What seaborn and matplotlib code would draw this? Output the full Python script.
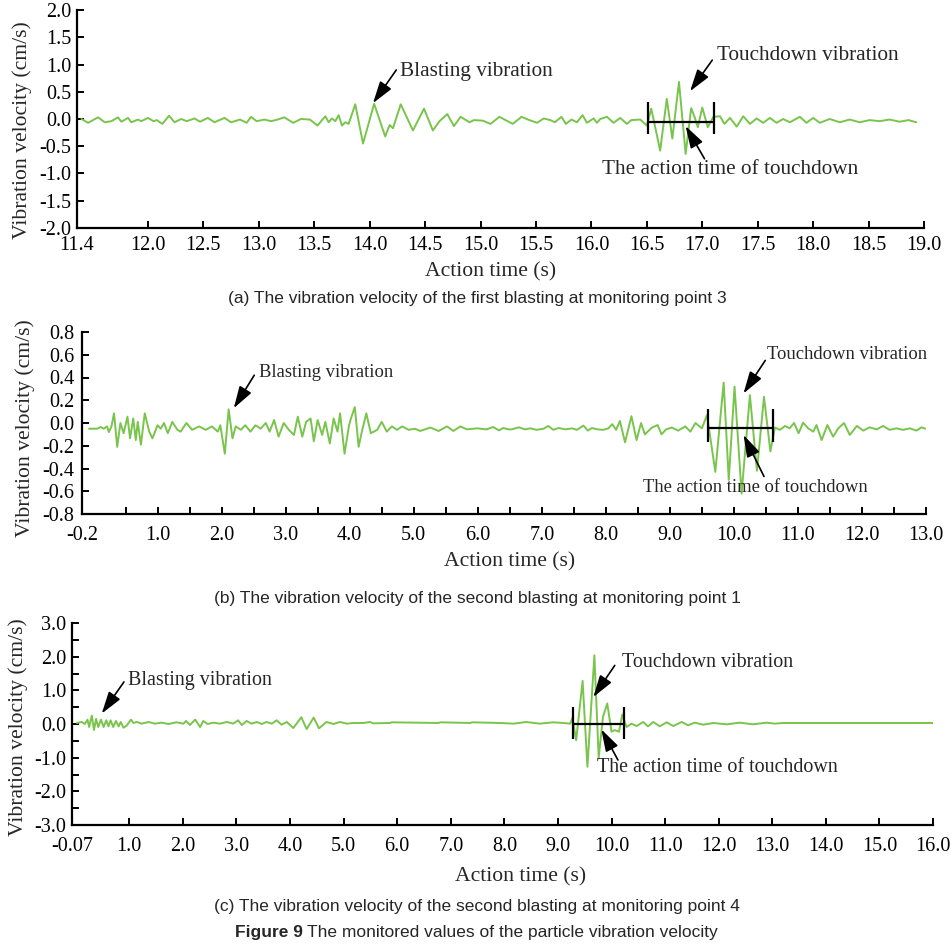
import matplotlib
matplotlib.use("Agg")
import matplotlib.pyplot as plt
import seaborn as sns
import pandas as pd

# ---------------- data ----------------
# (a) first blasting, monitoring point 3
a_time = [11.40, 11.46, 11.55, 11.61, 11.67, 11.73, 11.76, 11.82, 11.85, 11.91, 11.94, 12.00,
          12.05, 12.08, 12.13, 12.19, 12.24, 12.30, 12.35, 12.42, 12.47, 12.54, 12.60, 12.69,
          12.75, 12.83, 12.89, 12.93, 12.98, 13.05, 13.11, 13.17, 13.23, 13.31, 13.38, 13.46,
          13.53, 13.57, 13.60, 13.63, 13.66, 13.69, 13.72, 13.75, 13.78, 13.81, 13.87, 13.94,
          14.04, 14.14, 14.18, 14.21, 14.28, 14.39, 14.49, 14.57, 14.63, 14.70, 14.76, 14.82,
          14.90, 14.94, 15.02, 15.09, 15.17, 15.29, 15.37, 15.44, 15.51, 15.57, 15.63, 15.67,
          15.73, 15.77, 15.82, 15.87, 15.92, 15.96, 16.02, 16.05, 16.08, 16.14, 16.20, 16.26,
          16.32, 16.36, 16.44, 16.50, 16.54, 16.62, 16.68, 16.73, 16.79, 16.85, 16.90, 16.93,
          16.96, 17.00, 17.05, 17.10, 17.16, 17.20, 17.25, 17.31, 17.37, 17.43, 17.49, 17.55,
          17.61, 17.67, 17.73, 17.79, 17.88, 17.94, 18.00, 18.06, 18.15, 18.24, 18.33, 18.42,
          18.51, 18.60, 18.69, 18.78, 18.86, 18.93]
a_vel = [0.00, -0.07, 0.03, -0.06, -0.04, 0.03, -0.05, 0.02, -0.06, -0.01, -0.04, 0.02,
         -0.04, -0.02, -0.09, 0.06, -0.06, 0.00, -0.04, 0.01, -0.05, 0.02, -0.06, 0.02,
         -0.06, -0.01, -0.07, 0.04, -0.04, -0.01, -0.04, -0.01, 0.03, -0.07, 0.00, -0.01,
         -0.12, -0.02, 0.05, -0.06, 0.01, -0.04, 0.07, -0.12, -0.06, -0.09, 0.27, -0.45,
         0.28, -0.32, -0.11, -0.17, 0.27, -0.21, 0.19, -0.21, -0.04, 0.09, -0.13, 0.04,
         -0.06, -0.02, -0.03, -0.09, 0.04, -0.09, 0.04, -0.02, -0.07, 0.01, -0.02, -0.06,
         0.04, -0.09, -0.01, -0.06, 0.07, -0.07, 0.01, -0.07, 0.00, 0.04, -0.07, 0.02,
         -0.09, -0.02, -0.01, -0.12, 0.19, -0.58, 0.37, -0.36, 0.68, -0.64, 0.20, 0.04,
         -0.15, 0.21, -0.15, 0.04, 0.05, -0.09, 0.02, -0.14, 0.05, -0.09, 0.01, -0.07,
         0.02, -0.07, 0.00, -0.06, 0.04, -0.07, 0.02, -0.07, 0.00, -0.06, -0.01, -0.06,
         -0.02, -0.04, -0.01, -0.05, -0.02, -0.06]

# (b) second blasting, monitoring point 1
b_time = [-0.07, 0.06, 0.11, 0.16, 0.21, 0.24, 0.28, 0.32, 0.37, 0.42, 0.47, 0.53, 0.57,
          0.62, 0.66, 0.69, 0.74, 0.80, 0.87, 0.92, 1.00, 1.05, 1.10, 1.16, 1.23, 1.31,
          1.36, 1.45, 1.54, 1.65, 1.75, 1.85, 1.94, 1.98, 2.05, 2.11, 2.17, 2.22, 2.30,
          2.37, 2.45, 2.53, 2.61, 2.69, 2.75, 2.82, 2.89, 2.97, 3.05, 3.13, 3.19, 3.26,
          3.32, 3.39, 3.44, 3.50, 3.57, 3.62, 3.69, 3.75, 3.81, 3.85, 3.92, 3.99, 4.02,
          4.08, 4.14, 4.19, 4.26, 4.33, 4.43, 4.50, 4.58, 4.66, 4.74, 4.82, 4.92, 5.02,
          5.10, 5.26, 5.39, 5.52, 5.62, 5.73, 5.83, 5.99, 6.14, 6.24, 6.33, 6.40, 6.48,
          6.53, 6.64, 6.74, 6.82, 6.92, 7.03, 7.10, 7.18, 7.26, 7.37, 7.47, 7.55, 7.65,
          7.72, 7.78, 7.87, 7.96, 8.04, 8.10, 8.16, 8.22, 8.30, 8.40, 8.48, 8.55, 8.61,
          8.72, 8.81, 8.87, 8.94, 9.03, 9.13, 9.24, 9.32, 9.40, 9.50, 9.58, 9.71, 9.84,
          9.92, 10.01, 10.12, 10.25, 10.36, 10.47, 10.57, 10.64, 10.72, 10.80, 10.87,
          10.94, 11.01, 11.08, 11.16, 11.24, 11.29, 11.37, 11.46, 11.55, 11.63, 11.72,
          11.81, 11.92, 12.02, 12.12, 12.23, 12.33, 12.43, 12.54, 12.64, 12.75, 12.85,
          12.93, 12.99]
b_vel = [-0.05, -0.05, -0.035, -0.05, -0.03, -0.08, -0.03, 0.085, -0.21, 0.00, -0.09,
         0.056, -0.135, 0.04, -0.15, 0.01, -0.19, 0.085, -0.076, -0.135, -0.02, -0.05,
         0.00, -0.09, 0.01, -0.06, -0.076, 0.00, -0.06, -0.03, -0.06, -0.03, -0.076,
         -0.02, -0.27, 0.12, -0.135, -0.03, -0.06, -0.02, -0.076, -0.02, -0.05, 0.00,
         -0.076, 0.026, -0.12, 0.00, -0.06, -0.105, 0.056, -0.12, 0.01, 0.04, -0.16,
         0.026, -0.105, 0.01, -0.18, 0.04, -0.076, 0.085, -0.27, -0.02, 0.04, 0.14,
         -0.21, -0.076, 0.085, -0.09, -0.06, 0.01, -0.076, -0.03, -0.06, -0.03, -0.06,
         -0.05, -0.07, -0.04, -0.07, -0.03, -0.07, -0.03, -0.056, -0.047, -0.056, -0.035,
         -0.065, -0.044, -0.056, -0.056, -0.038, -0.056, -0.047, -0.06, -0.05, -0.026,
         -0.06, -0.044, -0.056, -0.047, -0.06, -0.023, -0.067, -0.044, -0.056, -0.06,
         -0.047, -0.01, -0.06, 0.018, -0.17, 0.06, -0.15, 0.00, -0.10, -0.04, -0.018,
         -0.10, -0.056, -0.04, -0.067, -0.03, -0.076, 0.00, -0.047, 0.07, -0.43, 0.355,
         -0.50, 0.32, -0.62, 0.245, -0.42, 0.23, -0.25, -0.04, -0.06, -0.026, -0.047,
         0.00, -0.09, 0.003, -0.047, -0.076, -0.018, -0.15, -0.018, -0.12, -0.047, 0.00,
         -0.105, -0.026, -0.067, -0.038, -0.056, -0.026, -0.06, -0.047, -0.06, -0.047,
         -0.067, -0.038, -0.05]

# (c) second blasting, monitoring point 4
c_time = [0.02, 0.11, 0.17, 0.22, 0.25, 0.30, 0.34, 0.38, 0.42, 0.47, 0.52, 0.57, 0.61,
          0.65, 0.70, 0.75, 0.80, 0.84, 0.89, 0.95, 1.03, 1.08, 1.14, 1.23, 1.36, 1.48,
          1.60, 1.73, 1.88, 2.01, 2.06, 2.13, 2.23, 2.32, 2.38, 2.46, 2.57, 2.69, 2.82,
          2.94, 3.03, 3.10, 3.19, 3.28, 3.38, 3.47, 3.56, 3.66, 3.75, 3.84, 3.94, 4.06,
          4.21, 4.31, 4.44, 4.54, 4.68, 4.81, 4.93, 5.06, 5.18, 5.37, 5.49, 5.55, 5.86,
          5.90, 6.77, 6.81, 7.36, 7.40, 7.92, 8.17, 8.41, 8.66, 8.91, 9.10, 9.23, 9.27,
          9.34, 9.46, 9.55, 9.68, 9.76, 9.84, 9.92, 10.00, 10.06, 10.14, 10.20, 10.28,
          10.37, 10.47, 10.59, 10.68, 10.78, 10.90, 11.03, 11.15, 11.31, 11.43, 11.55,
          11.71, 11.90, 12.15, 12.39, 12.64, 12.89, 13.05, 13.20, 16.00]
c_vel = [0.03, 0.06, 0.00, 0.13, -0.09, 0.25, -0.18, 0.15, -0.09, 0.13, -0.09, 0.11,
         -0.07, 0.11, -0.09, 0.09, -0.07, 0.06, -0.11, -0.05, 0.13, 0.03, 0.06, 0.01,
         0.06, 0.01, 0.04, 0.00, 0.05, 0.01, 0.09, -0.03, 0.13, -0.09, 0.09, 0.00, 0.04,
         0.01, 0.06, 0.01, 0.11, -0.03, 0.09, 0.01, 0.06, 0.00, 0.06, 0.01, 0.11, -0.02,
         0.06, -0.12, 0.20, -0.15, 0.19, -0.13, 0.06, 0.00, 0.06, 0.01, 0.03, 0.03, 0.06,
         0.02, 0.03, 0.05, 0.03, 0.05, 0.03, 0.05, 0.03, 0.01, 0.06, 0.01, 0.05, 0.03,
         0.01, 0.19, -0.48, 1.28, -1.27, 2.04, -1.00, 0.21, 0.61, -0.23, -0.18, -0.23,
         0.28, -0.09, 0.01, -0.06, 0.06, -0.07, 0.06, -0.07, 0.05, -0.06, 0.06, -0.04,
         0.04, -0.02, 0.03, -0.01, 0.04, -0.01, 0.04, 0.01, 0.03, 0.03]

# action-time brackets: start, end, level, bar bottom, bar top
a_bracket = [16.51, 17.11, -0.06, -0.28, 0.31]
b_bracket = [9.60, 10.61, -0.047, -0.17, 0.12]
c_bracket = [9.28, 10.23, 0.00, -0.46, 0.51]

# tick labels
a_xticks = [11.36, 12.0, 12.5, 13.0, 13.5, 14.0, 14.5, 15.0, 15.5, 16.0, 16.5, 17.0, 17.5, 18.0, 18.5, 19.0]
a_xlabels = ["11.4", "12.0", "12.5", "13.0", "13.5", "14.0", "14.5", "15.0", "15.5", "16.0",
             "16.5", "17.0", "17.5", "18.0", "18.5", "19.0"]
a_yticks = [-2.0, -1.5, -1.0, -0.5, 0.0, 0.5, 1.0, 1.5, 2.0]
b_xticks = [-0.18, 1.0, 2.0, 3.0, 4.0, 5.0, 6.0, 7.0, 8.0, 9.0, 10.0, 11.0, 12.0, 13.0]
b_xlabels = ["-0.2", "1.0", "2.0", "3.0", "4.0", "5.0", "6.0", "7.0", "8.0", "9.0", "10.0",
             "11.0", "12.0", "13.0"]
b_xminor = [0.5, 1.5, 2.5, 3.5, 4.5, 5.5, 6.5, 7.5, 8.5, 9.5, 10.5, 11.5, 12.5]
b_yticks = [-0.8, -0.6, -0.4, -0.2, 0.0, 0.2, 0.4, 0.6, 0.8]
c_xticks = [-0.07, 1.0, 2.0, 3.0, 4.0, 5.0, 6.0, 7.0, 8.0, 9.0, 10.0, 11.0, 12.0, 13.0, 14.0, 15.0, 16.0]
c_xlabels = ["-0.07", "1.0", "2.0", "3.0", "4.0", "5.0", "6.0", "7.0", "8.0", "9.0", "10.0",
             "11.0", "12.0", "13.0", "14.0", "15.0", "16.0"]
c_yticks = [-3.0, -2.0, -1.0, 0.0, 1.0, 2.0, 3.0]
c_yminor = [-2.5, -1.5, -0.5, 0.5, 1.5, 2.5]

captions = ["(a) The vibration velocity of the first blasting at monitoring point 3",
            "(b) The vibration velocity of the second blasting at monitoring point 1",
            "(c) The vibration velocity of the second blasting at monitoring point 4"]

# ---------------- style ----------------
sns.set_style("ticks")
plt.rcParams["font.family"] = ["Liberation Serif", "DejaVu Serif"]
GREEN = "#79c44c"
SERIF = "Liberation Serif"
SANS = "Liberation Sans"
TICK_FS = 14.5
LAB_FS = 15.6
CAP_FS = 12.5

fig = plt.figure(figsize=(9.52, 9.44), dpi=100)
W, H = 952, 944


def add_axes(left, right, top, bottom):
    return fig.add_axes([left / W, 1 - bottom / H, (right - left) / W, (bottom - top) / H])


ax_a = add_axes(77, 924, 10, 228)
ax_b = add_axes(82, 926, 332, 514)
ax_c = add_axes(72, 933, 623, 825)

for ax, t, v in [(ax_a, a_time, a_vel), (ax_b, b_time, b_vel), (ax_c, c_time, c_vel)]:
    df = pd.DataFrame({"t": t, "v": v})
    sns.lineplot(data=df, x="t", y="v", ax=ax, color=GREEN, linewidth=1.4, sort=False,
                 estimator=None)
    for s in ["top", "right"]:
        ax.spines[s].set_visible(False)
    for s in ["left", "bottom"]:
        ax.spines[s].set_linewidth(1.6)
        ax.spines[s].set_color("black")
    ax.tick_params(which="both", direction="in", length=5, width=1.4, colors="black",
                   labelsize=TICK_FS, pad=4)
    ax.set_xlabel("Action time (s)", fontsize=LAB_FS, fontfamily=SERIF)
    ax.set_ylabel("Vibration velocity (cm/s)", fontsize=LAB_FS, fontfamily=SERIF)
    ax.xaxis.label.set_verticalalignment("center")
    ax.yaxis.label.set_verticalalignment("center")
    ax.grid(False)

# panel a axes
ax_a.set_xlim(11.36, 19.0)
ax_a.set_ylim(-2.0, 2.0)
ax_a.set_xticks(a_xticks)
ax_a.set_xticklabels(a_xlabels)
ax_a.set_yticks(a_yticks)
ax_a.set_yticklabels([f"{y:.1f}" for y in a_yticks])
ax_a.tick_params(axis="x", which="both", pad=6)
ax_a.xaxis.set_label_coords(0.488, -0.20)
ax_a.yaxis.set_label_coords(-0.065, 0.45)

# panel b axes
ax_b.set_xlim(-0.18, 13.0)
ax_b.set_ylim(-0.8, 0.8)
ax_b.set_xticks(b_xticks)
ax_b.set_xticklabels(b_xlabels)
ax_b.set_xticks(b_xminor, minor=True)
ax_b.set_yticks(b_yticks)
ax_b.set_yticklabels([f"{y:.1f}" for y in b_yticks])
ax_b.tick_params(axis="x", which="both", pad=9)
ax_b.tick_params(axis="y", which="both", pad=5.5)
ax_b.xaxis.set_label_coords(0.507, -0.264)
ax_b.yaxis.set_label_coords(-0.0675, 0.47)

# panel c axes
ax_c.set_xlim(-0.07, 16.0)
ax_c.set_ylim(-3.0, 3.0)
ax_c.set_xticks(c_xticks)
ax_c.set_xticklabels(c_xlabels)
ax_c.set_yticks(c_yticks)
ax_c.set_yticklabels([f"{y:.1f}" for y in c_yticks])
ax_c.set_yticks(c_yminor, minor=True)
ax_c.tick_params(axis="x", which="both", pad=8.5)
ax_c.xaxis.set_label_coords(0.521, -0.257)
ax_c.yaxis.set_label_coords(-0.0627, 0.485)

# brackets
for ax, br in [(ax_a, a_bracket), (ax_b, b_bracket), (ax_c, c_bracket)]:
    x0, x1, lvl, lo, hi = br
    ax.hlines(lvl, x0, x1, color="black", linewidth=1.6, zorder=5)
    ax.vlines([x0, x1], lo, hi, color="black", linewidth=1.6, zorder=5)

arrow_kw = dict(arrowstyle="-|>,head_length=0.9,head_width=0.28", color="black", lw=1.2,
                mutation_scale=15, shrinkA=0, shrinkB=0)


def note(ax, text, text_xy, tail, tip, fs):
    ax.annotate("", xy=tip, xytext=tail, arrowprops=arrow_kw, zorder=6)
    ax.text(text_xy[0], text_xy[1], text, fontsize=fs, fontfamily=SERIF,
            ha="left", va="center", zorder=6)


note(ax_a, "Blasting vibration", (14.27, 0.88), (14.24, 0.90), (14.03, 0.29), 15.3)
note(ax_a, "Touchdown vibration", (17.13, 1.17), (17.09, 1.08), (16.89, 0.51), 15.3)
note(ax_a, "The action time of touchdown", (16.10, -0.92), (17.02, -0.73), (16.85, -0.13), 15.3)

note(ax_b, "Blasting vibration", (2.58, 0.44), (2.51, 0.42), (2.19, 0.13), 13.4)
note(ax_b, "Touchdown vibration", (10.52, 0.60), (10.49, 0.55), (10.15, 0.26), 13.4)
note(ax_b, "The action time of touchdown", (8.58, -0.57), (10.47, -0.47), (10.15, -0.105), 13.4)

note(ax_c, "Blasting vibration", (0.98, 1.30), (0.90, 1.25), (0.485, 0.31), 14.4)
note(ax_c, "Touchdown vibration", (10.19, 1.84), (10.06, 1.74), (9.66, 0.80), 14.4)
note(ax_c, "The action time of touchdown", (9.72, -1.28), (10.12, -1.07), (9.81, -0.16), 14.4)

# captions
for cap, y in zip(captions, [299, 598, 907]):
    fig.text(477 / W, 1 - y / H, cap, fontsize=CAP_FS, fontfamily=SANS, ha="center",
             va="center")
t1 = fig.text(235 / W, 1 - 932 / H, "Figure 9", fontsize=CAP_FS, fontfamily=SANS,
              fontweight="bold", ha="left", va="center")
fig.canvas.draw()
bb = t1.get_window_extent()
fig.text((bb.x1 + 4) / W, 1 - 932 / H,
         "The monitored values of the particle vibration velocity", fontsize=CAP_FS,
         fontfamily=SANS, ha="left", va="center")

fig.savefig("out.png", dpi=100)
